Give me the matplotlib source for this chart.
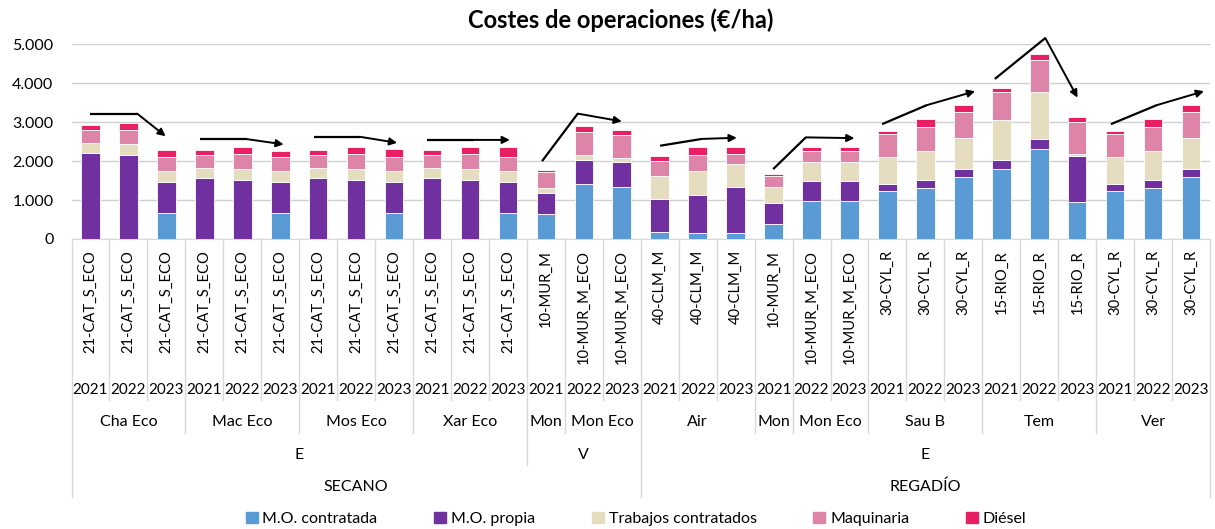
import matplotlib
matplotlib.use("Agg")
import matplotlib.pyplot as plt
from matplotlib.patches import Patch
from matplotlib.transforms import blended_transform_factory

plt.rcParams['font.family'] = ['Lato', 'DejaVu Sans']

# category levels, one entry per bar
codes = (["21-CAT_S_ECO"] * 12
         + ["10-MUR_M", "10-MUR_M_ECO", "10-MUR_M_ECO"]
         + ["40-CLM_M"] * 3
         + ["10-MUR_M", "10-MUR_M_ECO", "10-MUR_M_ECO"]
         + ["30-CYL_R"] * 3 + ["15-RIO_R"] * 3 + ["30-CYL_R"] * 3)
years = ["2021", "2022", "2023"] * 10
fincas = (["Cha Eco"] * 3 + ["Mac Eco"] * 3 + ["Mos Eco"] * 3 + ["Xar Eco"] * 3
          + ["Mon"] + ["Mon Eco"] * 2 + ["Air"] * 3 + ["Mon"] + ["Mon Eco"] * 2
          + ["Sau B"] * 3 + ["Tem"] * 3 + ["Ver"] * 3)
cultivo = ["E"] * 12 + ["V"] * 3 + ["E"] * 15
sistema = ["SECANO"] * 15 + ["REGADÍO"] * 15

# costes (€/ha)
mo_contratada = [0, 0, 670, 0, 0, 670, 0, 0, 670, 0, 0, 670,
                 650, 1400, 1330, 180, 160, 160, 385, 985, 985,
                 1240, 1310, 1590, 1810, 2310, 950, 1240, 1310, 1590]
mo_propia = [2210, 2150, 790, 1570, 1520, 790, 1570, 1520, 790, 1570, 1520, 790,
             540, 630, 635, 860, 975, 1165, 530, 500, 500,
             180, 195, 215, 215, 250, 1180, 180, 195, 215]
trabajos = [250, 280, 290, 250, 280, 290, 250, 280, 290, 250, 280, 290,
            130, 120, 110, 570, 610, 605, 410, 495, 495,
            685, 750, 785, 1035, 1220, 60, 685, 750, 785]
maquinaria = [340, 380, 360, 330, 380, 360, 330, 380, 360, 330, 380, 360,
              400, 600, 600, 395, 400, 255, 300, 275, 275,
              600, 625, 665, 720, 820, 820, 600, 625, 665]
diesel = [120, 170, 170, 130, 170, 140, 130, 170, 200, 130, 170, 240,
          60, 145, 130, 130, 225, 170, 35, 110, 95,
          60, 195, 180, 95, 145, 135, 60, 195, 180]

series = [("M.O. contratada", mo_contratada, "#5B9BD5"),
          ("M.O. propia", mo_propia, "#7030A0"),
          ("Trabajos contratados", trabajos, "#E6DCC0"),
          ("Maquinaria", maquinaria, "#DE84A8"),
          ("Diésel", diesel, "#E91E63")]

# trend arrows: (bar index, €/ha) points, arrow head on the last one
trends = [
    [(0.0, 3220), (1.23, 3220), (1.98, 2640)],
    [(2.89, 2565), (4.12, 2565), (5.09, 2430)],
    [(5.89, 2625), (7.10, 2625), (8.08, 2470)],
    [(8.87, 2545), (10.10, 2545), (11.05, 2545)],
    [(11.90, 2000), (12.84, 3220), (14.00, 3020)],
    [(15.01, 2395), (16.11, 2570), (17.03, 2600)],
    [(17.99, 1795), (18.85, 2610), (20.13, 2590)],
    [(20.86, 2950), (22.03, 3435), (23.31, 3795)],
    [(23.83, 4110), (25.16, 5160), (26.01, 3630)],
    [(26.89, 2950), (28.09, 3435), (29.34, 3795)],
]

W, H = 1215, 529
fig = plt.figure(figsize=(W / 100, H / 100), dpi=100)
ax = fig.add_axes([71.5 / W, 1 - 239 / H, (1210 - 71.5) / W, (239 - 44.3) / H])

x = list(range(len(codes)))
bottom = [0] * len(x)
for name, vals, col in series:
    ax.bar(x, vals, width=0.49, bottom=bottom, color=col,
           edgecolor="white", linewidth=0.6, label=name, zorder=3)
    bottom = [b + v for b, v in zip(bottom, vals)]

ax.set_xlim(-0.5, len(x) - 0.5)
ax.set_ylim(0, 5000)
ax.set_yticks(range(0, 5001, 1000))
ax.set_yticklabels([f"{v:,}".replace(",", ".") for v in range(0, 5001, 1000)])
ax.tick_params(axis="y", length=0, pad=13, labelsize=11.5)
ax.set_xticks([])
ax.grid(axis="y", color="#D0D0D0", linewidth=1, zorder=0)
for s in ["top", "right", "left"]:
    ax.spines[s].set_visible(False)
ax.spines["bottom"].set_color("#D9D9D9")

for pts in trends:
    xs = [p[0] for p in pts]
    ys = [p[1] for p in pts]
    ax.plot(xs[:-1], ys[:-1], color="black", lw=1.6, clip_on=False,
            solid_capstyle="butt", zorder=5)
    ax.annotate("", xy=pts[-1], xytext=pts[-2], annotation_clip=False,
                arrowprops=dict(arrowstyle="-|>", color="black", lw=1.4,
                                mutation_scale=11, shrinkA=0, shrinkB=0),
                zorder=5)

# multi-level category axis below the plot
tr = blended_transform_factory(ax.transData, fig.transFigure)


def fy(py):
    return 1 - py / H


for i in x:
    ax.text(i, fy(250), codes[i], transform=tr, rotation=90,
            ha="center", va="top", fontsize=10.6)
    ax.text(i, fy(390), years[i], transform=tr, ha="center", va="center",
            fontsize=11)


def runs(labels):
    out = []
    start = 0
    for i in range(1, len(labels) + 1):
        if i == len(labels) or labels[i] != labels[start]:
            out.append((start, i, labels[start]))
            start = i
    return out


levels = [(fincas, 422, 433), (cultivo, 455, 465), (sistema, 487, 497)]
depth = {k: 400 for k in range(len(x) + 1)}
for labels, ty, ly in levels:
    for a, b, lab in runs(labels):
        ax.text((a + b - 1) / 2, fy(ty), lab, transform=tr,
                ha="center", va="center", fontsize=11.5)
        depth[a] = max(depth[a], ly)
        depth[b] = max(depth[b], ly)

for k, d in depth.items():
    ax.plot([k - 0.5, k - 0.5], [fy(239), fy(d)], transform=tr,
            color="#D9D9D9", lw=1, clip_on=False)

fig.text(621 / W, fy(20), "Costes de operaciones (€/ha)", ha="center",
         va="center", fontsize=17, fontweight="bold")

handles = [Patch(color=c, label=n) for n, _, c in series]
fig.legend(handles=handles, loc="center", bbox_to_anchor=(636 / W, fy(519)),
           ncol=5, frameon=False, fontsize=11.5, handlelength=0.75,
           handleheight=0.75, handletextpad=0.3, columnspacing=3.55)

fig.savefig("out.png", dpi=100)
